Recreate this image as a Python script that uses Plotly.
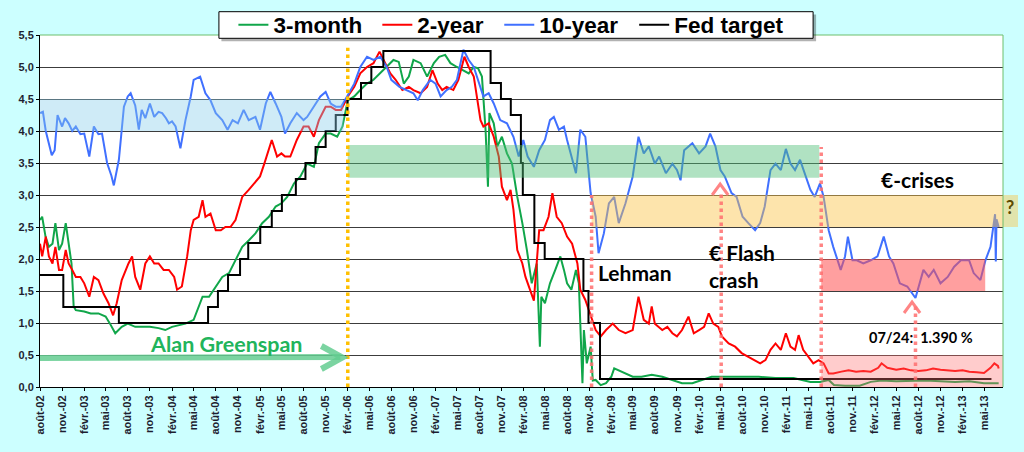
import plotly.graph_objects as go

# 3-month bill (vert)
bill_dates = [
    "2002-08-01", "2002-08-10", "2002-08-24", "2002-09-07", "2002-09-22", "2002-10-04", "2002-10-19",
    "2002-11-01", "2002-11-16", "2002-11-28", "2002-12-10", "2002-12-19", "2002-12-28", "2003-02-01",
    "2003-02-28", "2003-04-01", "2003-05-01", "2003-05-19", "2003-06-10", "2003-07-07", "2003-08-01",
    "2003-09-01", "2003-09-28", "2003-11-01", "2003-12-07", "2004-01-04", "2004-02-01", "2004-03-01",
    "2004-03-28", "2004-05-01", "2004-05-22", "2004-06-07", "2004-07-04", "2004-08-01", "2004-08-28",
    "2004-09-25", "2004-10-22", "2004-11-19", "2004-12-16", "2005-01-13", "2005-02-10", "2005-03-10",
    "2005-04-07", "2005-05-01", "2005-05-25", "2005-06-22", "2005-07-19", "2005-08-16", "2005-09-13",
    "2005-10-04", "2005-11-01", "2005-11-22", "2005-12-19", "2006-01-10", "2006-02-01", "2006-02-28",
    "2006-03-25", "2006-04-22", "2006-05-19", "2006-06-16", "2006-07-13", "2006-08-10", "2006-09-01",
    "2006-09-22", "2006-10-13", "2006-11-01", "2006-12-01", "2006-12-28", "2007-01-25", "2007-02-16",
    "2007-03-13", "2007-04-04", "2007-05-01", "2007-05-28", "2007-06-19", "2007-07-10", "2007-07-28",
    "2007-08-13", "2007-08-28", "2007-09-07", "2007-09-13", "2007-10-01", "2007-10-16", "2007-11-04",
    "2007-11-25", "2007-12-16", "2008-01-07", "2008-01-28", "2008-02-16", "2008-03-07", "2008-03-28",
    "2008-04-10", "2008-04-16", "2008-05-01", "2008-05-22", "2008-06-13", "2008-07-04", "2008-07-19",
    "2008-08-01", "2008-08-19", "2008-09-07", "2008-09-19", "2008-10-04", "2008-10-10", "2008-10-22",
    "2008-11-07", "2008-11-16", "2008-11-28", "2008-12-19", "2009-01-10", "2009-02-01", "2009-02-13",
    "2009-03-04", "2009-04-01", "2009-05-01", "2009-06-07", "2009-07-19", "2009-09-01", "2009-10-13",
    "2009-11-22", "2010-01-04", "2010-02-16", "2010-03-25", "2010-05-19", "2010-07-16", "2010-10-07",
    "2010-12-16", "2011-03-01", "2011-05-10", "2011-06-19", "2011-07-25", "2011-08-16", "2011-10-01",
    "2011-12-01", "2012-01-16", "2012-03-01", "2012-05-01", "2012-07-01", "2012-09-01", "2012-11-01",
    "2013-01-01", "2013-03-01", "2013-05-01", "2013-07-01",
]
bill_vals = [
    2.61, 2.66, 2.35, 2.19, 2.24, 2.56, 2.14, 2.24, 2.56, 2.24, 1.93, 1.26, 1.20, 1.18,
    1.15, 1.15, 1.10, 0.99, 0.84, 0.94, 0.99, 0.94, 0.94, 0.94, 0.92, 0.89, 0.94, 0.97,
    0.99, 1.05, 1.26, 1.41, 1.41, 1.57, 1.72, 1.78, 1.98, 2.19, 2.29, 2.40, 2.56, 2.66,
    2.82, 2.87, 2.97, 3.18, 3.29, 3.49, 3.44, 3.81, 3.96, 3.96, 3.91, 4.07, 4.48, 4.54,
    4.64, 4.74, 4.80, 4.90, 5.00, 5.11, 5.08, 4.74, 4.85, 5.11, 5.06, 4.85, 5.06, 5.16,
    5.19, 5.06, 5.00, 4.95, 4.90, 5.00, 4.98, 4.85, 4.02, 3.13, 4.28, 4.12, 3.76, 3.91,
    3.65, 3.49, 2.97, 2.56, 2.14, 1.62, 1.93, 0.63, 1.41, 1.31, 1.62, 1.83, 2.04, 1.83,
    1.62, 1.52, 1.83, 1.62, 0.06, 0.89, 0.37, 0.63, 0.10, 0.11, 0.03, 0.06, 0.16, 0.29,
    0.26, 0.21, 0.16, 0.16, 0.19, 0.16, 0.11, 0.06, 0.06, 0.11, 0.16, 0.16, 0.16, 0.16,
    0.14, 0.14, 0.08, 0.08, 0.11, 0.03, 0.02, 0.02, 0.08, 0.10, 0.09, 0.10, 0.10, 0.09,
    0.08, 0.09, 0.06, 0.06,
]

# 2-year note (rouge)
two_dates = [
    "2002-08-01", "2002-08-10", "2002-08-25", "2002-09-07", "2002-09-22", "2002-10-04", "2002-10-19",
    "2002-11-01", "2002-11-16", "2002-11-28", "2002-12-13", "2002-12-28", "2003-01-16", "2003-02-01",
    "2003-02-22", "2003-03-13", "2003-04-01", "2003-04-22", "2003-05-13", "2003-06-01", "2003-06-16",
    "2003-07-07", "2003-08-04", "2003-08-19", "2003-09-01", "2003-09-22", "2003-10-13", "2003-11-01",
    "2003-11-19", "2003-12-07", "2003-12-28", "2004-01-19", "2004-02-10", "2004-02-22", "2004-03-13",
    "2004-04-04", "2004-04-19", "2004-05-01", "2004-05-22", "2004-06-07", "2004-06-19", "2004-07-10",
    "2004-08-01", "2004-08-22", "2004-09-10", "2004-10-01", "2004-10-22", "2004-11-19", "2004-12-16",
    "2005-01-07", "2005-02-01", "2005-02-19", "2005-03-10", "2005-03-22", "2005-04-13", "2005-05-01",
    "2005-05-16", "2005-06-07", "2005-07-04", "2005-08-01", "2005-08-22", "2005-09-13", "2005-10-04",
    "2005-11-01", "2005-11-22", "2005-12-13", "2006-01-04", "2006-02-01", "2006-02-28", "2006-03-25",
    "2006-04-22", "2006-05-19", "2006-06-13", "2006-07-01", "2006-07-28", "2006-08-19", "2006-09-16",
    "2006-10-13", "2006-11-01", "2006-12-01", "2006-12-28", "2007-01-19", "2007-02-10", "2007-03-01",
    "2007-03-19", "2007-04-16", "2007-05-07", "2007-06-01", "2007-06-19", "2007-07-10", "2007-07-22",
    "2007-08-07", "2007-08-19", "2007-09-10", "2007-10-01", "2007-10-22", "2007-11-04", "2007-11-25",
    "2007-12-10", "2007-12-22", "2008-01-07", "2008-01-28", "2008-02-10", "2008-03-01", "2008-03-16",
    "2008-04-07", "2008-04-25", "2008-05-16", "2008-06-01", "2008-06-19", "2008-07-10", "2008-08-01",
    "2008-08-22", "2008-09-13", "2008-09-25", "2008-10-16", "2008-11-07", "2008-11-28", "2008-12-19",
    "2009-01-10", "2009-02-07", "2009-03-04", "2009-04-01", "2009-05-01", "2009-05-25", "2009-06-16",
    "2009-07-07", "2009-07-19", "2009-08-01", "2009-09-01", "2009-09-22", "2009-10-13", "2009-11-01",
    "2009-11-22", "2009-12-19", "2010-01-10", "2010-02-01", "2010-02-22", "2010-03-13", "2010-04-01",
    "2010-04-22", "2010-05-07", "2010-06-04", "2010-07-01", "2010-07-28", "2010-08-25", "2010-09-22",
    "2010-10-13", "2010-11-04", "2010-11-25", "2010-12-16", "2011-01-07", "2011-01-28", "2011-02-16",
    "2011-03-07", "2011-03-22", "2011-04-10", "2011-05-01", "2011-05-22", "2011-06-13", "2011-07-04",
    "2011-07-25", "2011-08-13", "2011-09-16", "2011-10-16", "2011-11-16", "2011-12-16", "2012-01-16",
    "2012-02-16", "2012-03-01", "2012-03-25", "2012-05-01", "2012-06-01", "2012-07-01", "2012-08-01",
    "2012-09-01", "2012-10-01", "2012-11-01", "2012-12-01", "2013-01-01", "2013-02-01", "2013-03-01",
    "2013-04-01", "2013-05-01", "2013-05-28", "2013-06-13", "2013-06-28", "2013-07-01",
]
two_vals = [
    2.24, 2.04, 2.35, 2.04, 1.93, 2.19, 1.83, 1.83, 2.14, 1.93, 1.83, 1.72, 1.72, 1.62,
    1.41, 1.72, 1.67, 1.46, 1.31, 1.12, 1.31, 1.67, 1.93, 2.04, 1.72, 1.52, 1.93, 2.04,
    1.93, 1.93, 1.83, 1.83, 1.72, 1.52, 1.57, 2.04, 2.45, 2.61, 2.66, 2.92, 2.66, 2.71,
    2.45, 2.45, 2.50, 2.50, 2.61, 2.97, 3.08, 3.18, 3.29, 3.49, 3.70, 3.86, 3.60, 3.65,
    3.60, 3.60, 3.86, 4.07, 4.07, 3.91, 4.17, 4.38, 4.38, 4.33, 4.33, 4.54, 4.69, 4.90,
    5.00, 5.06, 5.24, 5.11, 4.90, 4.80, 4.64, 4.69, 4.64, 4.59, 4.69, 4.95, 4.74, 4.64,
    4.69, 4.64, 4.80, 5.16, 5.00, 4.85, 4.54, 4.17, 4.07, 4.12, 3.91, 3.60, 3.13, 2.92,
    3.08, 2.77, 2.14, 1.93, 1.72, 1.52, 1.35, 2.45, 2.45, 2.66, 3.03, 2.66, 2.56, 2.35,
    2.24, 1.93, 1.52, 1.36, 1.10, 0.89, 0.79, 0.89, 0.99, 0.89, 0.84, 0.89, 1.41, 1.05,
    0.99, 1.26, 0.99, 0.89, 0.94, 0.84, 0.79, 0.89, 1.10, 0.84, 0.89, 0.94, 1.15, 0.99,
    0.94, 0.79, 0.68, 0.63, 0.53, 0.47, 0.42, 0.37, 0.42, 0.58, 0.68, 0.58, 0.84, 0.63,
    0.58, 0.81, 0.58, 0.47, 0.37, 0.42, 0.37, 0.21, 0.21, 0.24, 0.26, 0.24, 0.25, 0.24,
    0.30, 0.37, 0.30, 0.27, 0.29, 0.26, 0.25, 0.26, 0.29, 0.27, 0.26, 0.25, 0.26, 0.24,
    0.23, 0.22, 0.30, 0.37, 0.33, 0.29,
]

# 10-year note (bleu)
ten_dates = [
    "2002-08-01", "2002-08-13", "2002-08-25", "2002-09-19", "2002-10-01", "2002-10-13", "2002-11-01",
    "2002-11-13", "2002-11-28", "2002-12-13", "2002-12-28", "2003-01-16", "2003-02-01", "2003-02-22",
    "2003-03-13", "2003-04-01", "2003-04-16", "2003-05-07", "2003-05-25", "2003-06-04", "2003-06-25",
    "2003-07-16", "2003-08-01", "2003-08-13", "2003-09-01", "2003-09-16", "2003-09-28", "2003-10-13",
    "2003-11-01", "2003-11-19", "2003-12-07", "2003-12-22", "2004-01-07", "2004-01-19", "2004-02-01",
    "2004-02-16", "2004-03-07", "2004-03-28", "2004-04-19", "2004-05-01", "2004-05-28", "2004-06-19",
    "2004-07-10", "2004-08-01", "2004-08-28", "2004-09-19", "2004-10-10", "2004-11-01", "2004-11-25",
    "2004-12-16", "2005-01-13", "2005-02-01", "2005-02-25", "2005-03-16", "2005-04-07", "2005-05-01",
    "2005-05-16", "2005-06-07", "2005-07-04", "2005-08-01", "2005-08-16", "2005-09-13", "2005-10-10",
    "2005-11-01", "2005-11-22", "2005-12-13", "2006-01-04", "2006-02-01", "2006-02-28", "2006-03-25",
    "2006-04-22", "2006-05-19", "2006-06-16", "2006-07-13", "2006-08-01", "2006-09-04", "2006-10-01",
    "2006-11-01", "2006-11-19", "2006-12-10", "2007-01-10", "2007-02-01", "2007-02-22", "2007-03-19",
    "2007-04-10", "2007-05-01", "2007-05-28", "2007-06-19", "2007-07-10", "2007-08-01", "2007-08-19",
    "2007-09-10", "2007-10-01", "2007-10-28", "2007-11-25", "2007-12-22", "2008-01-13", "2008-02-01",
    "2008-02-19", "2008-03-16", "2008-04-07", "2008-05-01", "2008-05-22", "2008-06-07", "2008-06-28",
    "2008-07-19", "2008-08-01", "2008-09-07", "2008-09-25", "2008-10-16", "2008-11-07", "2008-11-28",
    "2008-12-10", "2009-01-01", "2009-01-22", "2009-02-13", "2009-03-04", "2009-04-01", "2009-05-01",
    "2009-05-25", "2009-06-16", "2009-07-07", "2009-08-01", "2009-08-19", "2009-09-16", "2009-10-13",
    "2009-11-01", "2009-11-16", "2009-12-01", "2010-01-04", "2010-02-01", "2010-02-28", "2010-03-19",
    "2010-04-10", "2010-05-01", "2010-05-19", "2010-06-16", "2010-07-07", "2010-08-01", "2010-08-25",
    "2010-09-22", "2010-10-13", "2010-11-01", "2010-11-25", "2010-12-16", "2011-01-07", "2011-01-28",
    "2011-02-16", "2011-03-07", "2011-03-28", "2011-04-19", "2011-05-10", "2011-05-28", "2011-06-19",
    "2011-07-04", "2011-07-25", "2011-08-13", "2011-09-13", "2011-10-01", "2011-10-13", "2011-11-01",
    "2011-11-19", "2011-12-16", "2012-01-16", "2012-02-13", "2012-03-10", "2012-04-01", "2012-04-19",
    "2012-05-16", "2012-06-16", "2012-07-20", "2012-07-30", "2012-08-22", "2012-09-13", "2012-10-04",
    "2012-11-01", "2012-12-01", "2012-12-28", "2013-01-25", "2013-02-28", "2013-03-19", "2013-04-16",
    "2013-05-07", "2013-05-28", "2013-06-10", "2013-06-16", "2013-06-19", "2013-06-22", "2013-07-01",
]
ten_vals = [
    4.28, 4.30, 4.00, 3.62, 3.70, 4.25, 4.07, 4.20, 4.12, 4.00, 4.07, 3.95, 3.96, 3.60,
    4.07, 3.95, 3.96, 3.50, 3.30, 3.15, 3.55, 4.38, 4.54, 4.59, 4.40, 4.02, 4.33, 4.20,
    4.43, 4.22, 4.30, 4.28, 4.20, 4.12, 4.15, 4.07, 3.73, 4.17, 4.54, 4.80, 4.85, 4.59,
    4.48, 4.28, 4.17, 4.02, 4.17, 4.12, 4.33, 4.17, 4.22, 4.02, 4.43, 4.61, 4.43, 4.22,
    3.96, 4.12, 4.28, 4.17, 4.22, 4.38, 4.54, 4.61, 4.43, 4.38, 4.38, 4.56, 4.74, 5.00,
    5.16, 5.11, 5.16, 5.00, 4.80, 4.69, 4.64, 4.59, 4.48, 4.64, 4.80, 4.74, 4.54, 4.64,
    4.69, 4.80, 5.27, 5.11, 5.00, 4.74, 4.54, 4.59, 4.43, 4.17, 4.12, 3.91, 3.60, 3.86,
    3.60, 3.44, 3.70, 3.86, 4.17, 4.22, 4.02, 4.07, 3.86, 3.34, 4.02, 3.91, 3.03, 2.66,
    2.09, 2.40, 2.87, 2.97, 2.56, 2.87, 3.29, 3.91, 3.65, 3.76, 3.49, 3.60, 3.34, 3.49,
    3.39, 3.23, 3.70, 3.81, 3.65, 3.76, 3.96, 3.76, 3.39, 3.29, 3.03, 2.97, 2.66, 2.56,
    2.45, 2.56, 2.82, 3.39, 3.49, 3.39, 3.72, 3.49, 3.39, 3.55, 3.29, 3.08, 2.97, 3.18,
    2.97, 2.45, 2.19, 1.83, 2.04, 2.35, 1.98, 1.98, 1.93, 1.98, 2.04, 2.35, 2.04, 1.93,
    1.62, 1.57, 1.39, 1.52, 1.83, 1.72, 1.83, 1.62, 1.72, 1.88, 1.98, 1.98, 1.78, 1.67,
    1.98, 2.19, 2.56, 2.70, 1.96, 2.62, 2.50,
]

# Fed funds target (paliers)
fed_dates = [
    "2002-08-01", "2002-11-06", "2003-06-25", "2004-06-30", "2004-08-10", "2004-09-21", "2004-11-10",
    "2004-12-14", "2005-02-02", "2005-03-22", "2005-05-03", "2005-06-30", "2005-08-09", "2005-09-20",
    "2005-11-01", "2005-12-13", "2006-01-31", "2006-03-28", "2006-05-10", "2006-06-29", "2007-09-18",
    "2007-10-31", "2007-12-11", "2008-01-22", "2008-01-30", "2008-03-18", "2008-04-30", "2008-10-08",
    "2008-10-29", "2008-12-16", "2013-06-01",
]
fed_vals = [
    1.75, 1.25, 1.00, 1.25, 1.50, 1.75, 2.00, 2.25, 2.50, 2.75, 3.00, 3.25, 3.50, 3.75,
    4.00, 4.25, 4.50, 4.75, 5.00, 5.25, 4.75, 4.50, 4.25, 3.50, 3.00, 2.25, 2.00, 1.50,
    1.00, 0.125, 0.125,
]

tick_dates = [
    "2002-08-01", "2002-11-01", "2003-02-01", "2003-05-01", "2003-08-01", "2003-11-01", "2004-02-01",
    "2004-05-01", "2004-08-01", "2004-11-01", "2005-02-01", "2005-05-01", "2005-08-01", "2005-11-01",
    "2006-02-01", "2006-05-01", "2006-08-01", "2006-11-01", "2007-02-01", "2007-05-01", "2007-08-01",
    "2007-11-01", "2008-02-01", "2008-05-01", "2008-08-01", "2008-11-01", "2009-02-01", "2009-05-01",
    "2009-08-01", "2009-11-01", "2010-02-01", "2010-05-01", "2010-08-01", "2010-11-01", "2011-02-01",
    "2011-05-01", "2011-08-01", "2011-11-01", "2012-02-01", "2012-05-01", "2012-08-01", "2012-11-01",
    "2013-02-01", "2013-05-01",
]
tick_labels = [
    "août-02", "nov.-02", "févr.-03", "mai-03", "août-03", "nov.-03", "févr.-04",
    "mai-04", "août-04", "nov.-04", "févr.-05", "mai-05", "août-05", "nov.-05",
    "févr.-06", "mai-06", "août-06", "nov.-06", "févr.-07", "mai-07", "août-07",
    "nov.-07", "févr.-08", "mai-08", "août-08", "nov.-08", "févr.-09", "mai-09",
    "août-09", "nov.-09", "févr.-10", "mai-10", "août-10", "nov.-10", "févr.-11",
    "mai-11", "août-11", "nov.-11", "févr.-12", "mai-12", "août-12", "nov.-12",
    "févr.-13", "mai-13",
]

W, H = 1024, 452
L, R, T, B = 39.5, 1003, 35, 387


def px(x):
    # pixel -> fraction du papier
    return (x - L) / (R - L)


def py(y):
    return (B - y) / (B - T)


fig = go.Figure()
fig.add_trace(go.Scatter(x=bill_dates, y=bill_vals, name="3-month", mode="lines", legend="legend",
                         line=dict(color="#10a64a", width=2)))
fig.add_trace(go.Scatter(x=two_dates, y=two_vals, name="2-year", mode="lines", legend="legend2",
                         line=dict(color="#ff0000", width=2)))
fig.add_trace(go.Scatter(x=ten_dates, y=ten_vals, name="10-year", mode="lines", legend="legend3",
                         line=dict(color="#4070ff", width=2)))
fig.add_trace(go.Scatter(x=fed_dates, y=fed_vals, name="Fed target", mode="lines", legend="legend4",
                         line=dict(color="#000000", width=2, shape="hv")))

shapes = []
# bandes colorées (au-dessus des courbes, transparentes)
bands = [
    ("2002-08-01", "2006-01-14", 4.0, 4.5, "rgba(135,206,235,0.4)"),
    ("2006-02-01", "2011-06-16", 3.27, 3.78, "rgba(80,190,120,0.45)"),
    ("2008-11-11", "2013-07-19", 2.5, 3.0, "rgba(250,195,70,0.45)"),
    ("2011-06-24", "2013-05-06", 1.5, 2.0, "rgba(255,80,80,0.55)"),
    ("2011-06-24", "2013-07-19", 0.0, 0.5, "rgba(255,110,110,0.35)"),
]
for x0, x1, y0, y1, c in bands:
    shapes.append(dict(type="rect", xref="x", yref="y", x0=x0, x1=x1, y0=y0, y1=y1,
                       fillcolor=c, line=dict(width=0), layer="above"))
# petit bout du bandeau orange hors du graphe (le "?")
shapes.append(dict(type="rect", xref="paper", yref="paper", x0=1.0, x1=px(1018),
                   y0=2.5 / 5.5, y1=3.0 / 5.5, fillcolor="rgba(250,195,70,0.45)",
                   line=dict(width=0), layer="above"))

# lignes verticales pointillées
vlines = [
    ("2006-02-01", 5.3, "#ffc000"),
    ("2008-11-11", 3.0, "rgba(255,110,110,0.85)"),
    ("2010-05-04", 3.05, "rgba(255,110,110,0.85)"),
    ("2011-06-24", 3.75, "rgba(255,110,110,0.85)"),
    ("2012-07-20", 1.3, "rgba(255,110,110,0.85)"),
]
for xd, top, c in vlines:
    shapes.append(dict(type="line", xref="x", yref="y", x0=xd, x1=xd, y0=0, y1=top,
                       line=dict(color=c, width=3.5, dash="dot"), layer="above"))

# flèche Greenspan
shapes.append(dict(type="line", xref="paper", yref="paper", x0=0, x1=px(340),
                   y0=py(358), y1=py(357), line=dict(color="rgba(100,205,145,0.85)", width=6),
                   layer="above"))
shapes.append(dict(type="path", xref="paper", yref="paper",
                   path=f"M {px(321)},{py(346)} L {px(342)},{py(357.5)} L {px(321)},{py(369)}",
                   line=dict(color="rgba(100,205,145,0.85)", width=6), layer="above"))
# chevrons rouges
for ax_, ay_ in [(720, 184), (912, 302)]:
    shapes.append(dict(type="path", xref="paper", yref="paper",
                       path=f"M {px(ax_ - 8)},{py(ay_ + 11)} L {px(ax_)},{py(ay_)} L {px(ax_ + 8)},{py(ay_ + 11)}",
                       line=dict(color="rgba(255,120,120,0.9)", width=3), layer="above"))
# bord vert haut/droite
shapes.append(dict(type="path", xref="paper", yref="paper", path="M 0,1 L 1,1 L 1,0",
                   line=dict(color="#6cbf6c", width=1), layer="above"))
# cadre de la légende + ombre
shapes.append(dict(type="rect", xref="paper", yref="paper", x0=px(221), x1=px(816),
                   y0=py(41.3), y1=py(14.5), fillcolor="rgba(0,0,0,0.3)",
                   line=dict(width=0), layer="above"))
shapes.append(dict(type="rect", xref="paper", yref="paper", x0=px(218.5), x1=px(813),
                   y0=py(38.3), y1=py(11.7), fillcolor="white",
                   line=dict(color="black", width=1), layer="above"))

ann_font = dict(family="Lato", size=21, color="black", weight="bold")
annotations = [
    dict(x=px(226), y=py(344), text="Alan Greenspan",
         font=dict(family="Lato", size=21.5, color="#21b45b", weight="bold")),
    dict(x=px(596), y=py(272), text="Lehman", xanchor="left", font=ann_font),
    dict(x=px(707), y=py(252), text="€ Flash", xanchor="left", font=ann_font),
    dict(x=px(707), y=py(279), text="crash", xanchor="left", font=ann_font),
    dict(x=px(917), y=py(179), text="€-crises", font=ann_font),
    dict(x=px(921), y=py(337), text="07/24:  1.390 %",
         font=dict(family="Lato", size=14.5, color="black", weight="bold")),
    dict(x=px(1010), y=py(207), text="?", font=dict(family="Lato", size=18, color="#5c4a00", weight="bold")),
]
for a in annotations:
    a.setdefault("xanchor", "center")
    a.update(xref="paper", yref="paper", yanchor="middle", showarrow=False)

tick_font = dict(family="Liberation Sans", size=11, color="#1e1e30", weight="bold")
legend_font = dict(family="Liberation Sans", size=22.5, color="black", weight="bold")


def legend_at(text_x):
    # une légende par série, placée sur le texte de la référence
    return dict(orientation="h", x=px(text_x - 41), xanchor="left", y=py(25), yanchor="middle",
                bgcolor="rgba(0,0,0,0)", borderwidth=0, font=legend_font, itemwidth=30)


fig.update_layout(
    width=W, height=H,
    margin=dict(l=L, r=W - R, t=T, b=H - B, pad=0, autoexpand=False),
    paper_bgcolor="#ccffff",
    plot_bgcolor="#ffffff",
    separators=", ",
    showlegend=True,
    legend=legend_at(274),
    legend2=legend_at(418),
    legend3=legend_at(540),
    legend4=legend_at(675),
    xaxis=dict(type="date", range=["2002-08-01", "2013-07-19"], tickvals=tick_dates,
               ticktext=tick_labels, tickangle=-90, tickfont=tick_font, showgrid=False,
               showline=True, linecolor="black", linewidth=1, ticks="outside", ticklen=3,
               tickcolor="black"),
    yaxis=dict(range=[0, 5.5], dtick=0.5, tick0=0, tickformat=".1f", tickfont=tick_font,
               showgrid=True, gridcolor="#3c3c3c", gridwidth=1, zeroline=False,
               showline=True, linecolor="black", linewidth=1, ticks="outside", ticklen=3,
               tickcolor="black"),
    shapes=shapes,
    annotations=annotations,
)

fig.write_html("out.html", config={"displayModeBar": False},
               post_script="document.body.style.margin='0';")
